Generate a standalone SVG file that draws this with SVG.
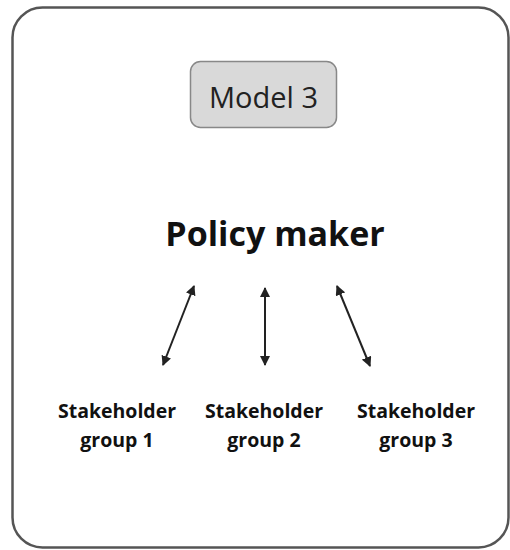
<svg xmlns="http://www.w3.org/2000/svg" width="510" height="550" viewBox="0 0 510 550">
<style>
.lbl{font-family:"Open Sans","Liberation Sans",sans-serif;font-weight:bold;font-size:19.5px;fill:#111;text-anchor:middle}
.conn{stroke:#222;stroke-width:2;fill:none;marker-start:url(#ah);marker-end:url(#ah)}
</style>
<defs>
<marker id="ah" viewBox="0 0 10 10" refX="9" refY="5" markerWidth="5" markerHeight="5" orient="auto-start-reverse" markerUnits="strokeWidth">
<path d="M0,0 L10,5 L0,10 z" fill="#222"/>
</marker>
</defs>
<rect width="510" height="550" fill="#ffffff"/>
<g id="frame">
<rect x="12.5" y="7.5" width="496" height="540" rx="30" ry="30" fill="#fff" stroke="#555" stroke-width="2.5"/>
</g>
<g id="model3">
<rect x="190.5" y="61.5" width="146" height="66" rx="10" ry="10" fill="#d9d9d9" stroke="#888" stroke-width="1.5"/>
<text x="263.5" y="108" style="font-family:'Open Sans','Liberation Sans',sans-serif;font-size:29px;fill:#222;text-anchor:middle">Model 3</text>
</g>
<g id="policy-maker">
<text x="275" y="246" style="font-family:'Open Sans','Liberation Sans',sans-serif;font-weight:bold;font-size:34px;fill:#111;text-anchor:middle">Policy maker</text>
</g>
<g id="connectors">
<line class="conn" x1="194" y1="286" x2="163" y2="365"/>
<line class="conn" x1="265" y1="288" x2="265" y2="365"/>
<line class="conn" x1="337" y1="286" x2="370" y2="366"/>
</g>
<g id="group1">
<text class="lbl" x="117" y="418">Stakeholder</text>
<text class="lbl" x="117" y="447">group 1</text>
</g>
<g id="group2">
<text class="lbl" x="264" y="418">Stakeholder</text>
<text class="lbl" x="264" y="447">group 2</text>
</g>
<g id="group3">
<text class="lbl" x="416" y="418">Stakeholder</text>
<text class="lbl" x="416" y="447">group 3</text>
</g>
</svg>
